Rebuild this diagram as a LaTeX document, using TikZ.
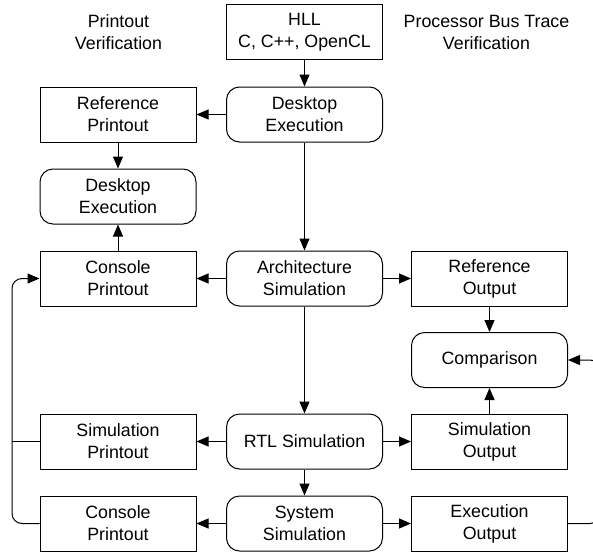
\documentclass[tikz,border=0pt]{standalone}
\usepackage{fontspec}
\setmainfont{Liberation Sans}
\usetikzlibrary{arrows.meta}
\begin{document}
\begin{tikzpicture}[x=1pt,y=-1pt,
  every node/.style={font=\fontsize{17.8}{22}\selectfont, align=center, inner sep=0pt},
  sqbox/.style={draw, line width=1pt, minimum width=156pt, minimum height=55pt},
  rdbox/.style={sqbox, rounded corners=13pt},
  arr/.style={line width=1pt, -{Triangle[length=12pt,width=10pt]}},
  ln/.style={line width=1pt}]
\useasboundingbox (0,0) rectangle (593,554);
\clip (0,0) rectangle (593,554);
% headers
\node (h1) at (118.5,32) {Printout\\Verification};
\node (h2) at (486.5,32) {Processor Bus Trace\\Verification};
% middle column
\node[sqbox] (hll) at (304.5,32) {HLL\\C, C++, OpenCL};
\node[rdbox] (dm) at (304.5,114.5) {Desktop\\Execution};
\node[rdbox] (arch) at (304.5,278.5) {Architecture\\Simulation};
\node[rdbox] (rtl) at (304.5,441.5) {RTL Simulation};
\node[rdbox] (sys) at (304.5,523.5) {System\\Simulation};
% left column
\node[sqbox] (refp) at (118,114.5) {Reference\\Printout};
\node[rdbox] (dl) at (118,196.5) {Desktop\\Execution};
\node[sqbox] (cp1) at (118,278.5) {Console\\Printout};
\node[sqbox] (simp) at (118,441.5) {Simulation\\Printout};
\node[sqbox] (cp2) at (118,523.5) {Console\\Printout};
% right column
\node[sqbox] (refo) at (489.5,278.5) {Reference\\Output};
\node[rdbox] (comp) at (489.5,360) {Comparison};
\node[sqbox] (simo) at (489.5,441.5) {Simulation\\Output};
\node[sqbox] (exo) at (489.5,523.5) {Execution\\Output};
% connectors
\draw[arr] (hll) -- (dm);
\draw[arr] (dm) -- (refp);
\draw[arr] (refp) -- (dl);
\draw[arr] (cp1) -- (dl);
\draw[arr] (dm) -- (arch);
\draw[arr] (arch) -- (cp1);
\draw[arr] (arch) -- (refo);
\draw[arr] (refo) -- (comp);
\draw[arr] (arch) -- (rtl);
\draw[arr] (rtl) -- (simp);
\draw[arr] (rtl) -- (simo);
\draw[arr] (simo) -- (comp);
\draw[arr] (rtl) -- (sys);
\draw[arr] (sys) -- (cp2);
\draw[arr] (sys) -- (exo);
% left loop
\coordinate (lb) at (12,523.5);
\coordinate (lt) at (12,278.5);
\coordinate (lm) at (12,441.5);
\draw[arr, rounded corners=10pt] (cp2.west) -- (lb) -- (lt) -- (cp1.west);
\draw[ln] (simp.west) -- (lm);
% right loop (partially outside)
\coordinate (rb) at (598,523.5);
\coordinate (rt) at (598,360);
\draw[arr, rounded corners=8pt] (exo.east) -- (rb) -- (rt) -- (comp.east);
\end{tikzpicture}
\end{document}
